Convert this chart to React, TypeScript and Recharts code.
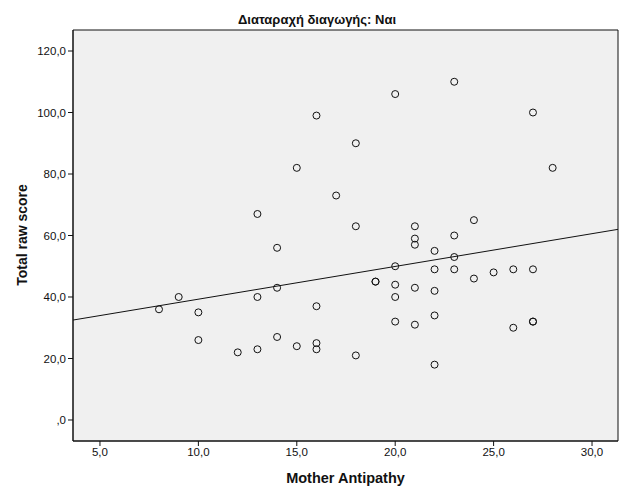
import { ScatterChart, Scatter, XAxis, YAxis, ReferenceLine, ReferenceArea } from "recharts"

// Mother Antipathy (x) and Total raw score (y), one pair per case
const antipathy = [
  8, 9, 10, 10, 12, 13, 13, 13, 14, 14, 14, 15, 15, 16, 16, 16, 16, 17, 18, 18, 18,
  19, 19, 20, 20, 20, 20, 20, 21, 21, 21, 21, 21, 22, 22, 22, 22, 22,
  23, 23, 23, 23, 24, 24, 25, 26, 26, 27, 27, 27, 27, 28,
]
const rawScore = [
  36, 40, 35, 26, 22, 67, 40, 23, 56, 43, 27, 82, 24, 99, 37, 25, 23, 73, 90, 63, 21,
  45, 45, 106, 50, 44, 40, 32, 63, 59, 57, 43, 31, 55, 49, 42, 34, 18,
  110, 60, 53, 49, 65, 46, 48, 49, 30, 100, 49, 32, 32, 82,
]

const xTicks = [5, 10, 15, 20, 25, 30]
const yTicks = [0, 20, 40, 60, 80, 100, 120]

// fit line (value at left and right frame edge)
const fitStart = { x: 3.63, y: 32.5 }
const fitEnd = { x: 31.32, y: 62.0 }

const title = "Διαταραχή διαγωγής: Ναι"
const xTitle = "Mother Antipathy"
const yTitle = "Total raw score"

const points = antipathy.map((x, i) => ({ x, y: rawScore[i] }))

const FONT = "'Liberation Sans', Arial, sans-serif"
const fmt = (v: number) => (v === 0 ? ",0" : v.toFixed(1).replace(".", ","))

const Ring = (props: any) => {
  const { cx, cy } = props
  return <circle cx={cx} cy={cy} r={3.5} fill="none" stroke="#111" strokeWidth={1} />
}

export default function App() {
  const tickStyle = { fontSize: 11.5, fill: "#111", fontFamily: FONT }
  return (
    <div style={{ position: "absolute", left: 0, top: 0, width: 626, height: 501, background: "#fff", fontFamily: FONT }}>
      <ScatterChart width={626} height={501} margin={{ top: 30, right: 8, bottom: 0, left: 0 }}>
        <XAxis
          type="number"
          dataKey="x"
          domain={[3.63, 31.32]}
          ticks={xTicks}
          tickFormatter={fmt}
          allowDataOverflow
          height={60}
          tickSize={5}
          tick={tickStyle}
          stroke="#111"
        />
        <YAxis
          type="number"
          dataKey="y"
          domain={[-6.83, 126.83]}
          ticks={yTicks}
          tickFormatter={fmt}
          allowDataOverflow
          width={73}
          tickSize={5}
          tick={tickStyle}
          stroke="#111"
        />
        <ReferenceArea x1={3.63} x2={31.32} y1={-6.83} y2={126.83} fill="#f0f0f0" fillOpacity={1} stroke="#111" strokeWidth={1} />
        <ReferenceLine segment={[fitStart, fitEnd]} stroke="#111" strokeWidth={1} />
        <Scatter data={points} shape={Ring} isAnimationActive={false} />
      </ScatterChart>
      <div style={{ position: "absolute", left: 17, width: 600, top: 12, textAlign: "center", fontSize: 13, fontWeight: "bold", color: "#111" }}>
        {title}
      </div>
      <div style={{ position: "absolute", left: 73, width: 545, top: 470, textAlign: "center", fontSize: 14.5, fontWeight: "bold", color: "#111" }}>
        {xTitle}
      </div>
      <div
        style={{
          position: "absolute",
          left: 22,
          top: 235,
          transform: "translate(-50%, -50%) rotate(-90deg)",
          whiteSpace: "nowrap",
          fontSize: 14,
          fontWeight: "bold",
          color: "#111",
        }}
      >
        {yTitle}
      </div>
    </div>
  )
}
